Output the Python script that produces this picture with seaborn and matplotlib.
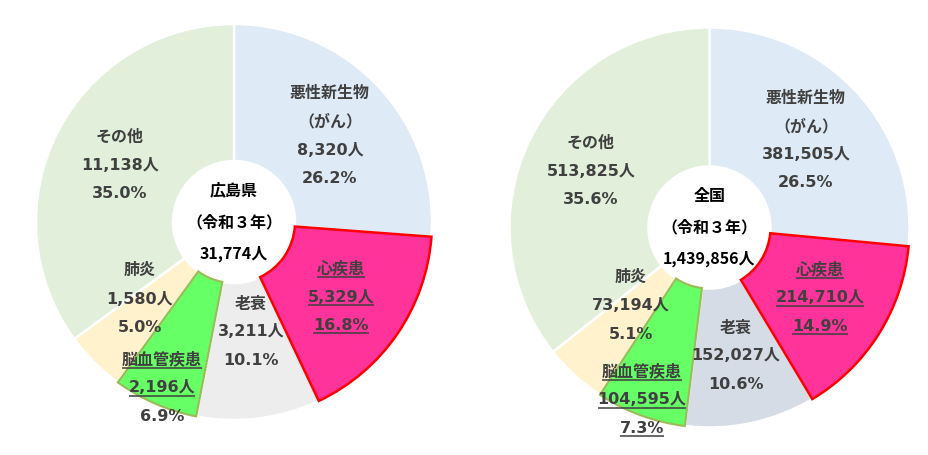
import matplotlib
matplotlib.use("Agg")
import matplotlib.pyplot as plt
import seaborn as sns
import numpy as np

sns.set_theme(style="white")
plt.rcParams['font.family'] = ['DejaVu Sans', 'Noto Sans CJK JP']

# ---------------- data ----------------
categories = ["悪性新生物", "心疾患", "老衰", "脳血管疾患", "肺炎", "その他"]
name_lines = [["悪性新生物", "（がん）"], ["心疾患"], ["老衰"], ["脳血管疾患"], ["肺炎"], ["その他"]]

hiroshima_counts = [8320, 5329, 3211, 2196, 1580, 11138]
hiroshima_pct = ["26.2%", "16.8%", "10.1%", "6.9%", "5.0%", "35.0%"]
hiroshima_title = ["広島県", "（令和３年）", "31,774人"]

japan_counts = [381505, 214710, 152027, 104595, 73194, 513825]
japan_pct = ["26.5%", "14.9%", "10.6%", "7.3%", "5.1%", "35.6%"]
japan_title = ["全国", "（令和３年）", "1,439,856人"]

# ---------------- style / layout ----------------
W, H = 929, 455
DPI = 100
TXT = "#404040"

colors_left = ["#DEEAF6", "#FF3399", "#EDEDED", "#66FF66", "#FFF2CC", "#E2EFDA"]
colors_right = ["#DEEAF6", "#FF3399", "#D6DCE5", "#66FF66", "#FFF2CC", "#E2EFDA"]

charts = [
    dict(counts=hiroshima_counts, pct=hiroshima_pct, title=hiroshima_title,
         colors=colors_left, center=(234, 222), r=198,
         offsets=[(96, -86), (107, 75), (17, 110), (-72, 166), (-94, 77), (-114, -57)],
         underline={1: [0, 1, 2], 3: [0, 1]}),
    dict(counts=japan_counts, pct=japan_pct, title=japan_title,
         colors=colors_right, center=(709.5, 227.5), r=200,
         offsets=[(96.5, -87), (110.5, 70.5), (26.5, 128.5), (-67.5, 172.5), (-78.5, 78.5), (-118.5, -56.5)],
         underline={1: [0, 1, 2], 3: [0, 1, 2]}),
]
HOLE_R = 61
LINE_H = 28.3
FS = 11.5

fig = plt.figure(figsize=(W / DPI, H / DPI), dpi=DPI)
ax = fig.add_axes([0, 0, 1, 1])

to_underline = []

for ch in charts:
    cx, cy_pix = ch["center"]
    cy = H - cy_pix
    wedges, _ = ax.pie(ch["counts"], colors=ch["colors"], startangle=90, counterclock=False,
                       center=(cx, cy), radius=ch["r"],
                       wedgeprops=dict(width=ch["r"] - HOLE_R, edgecolor="white", linewidth=1.8))
    # highlighted slices
    wedges[1].set_edgecolor("#FF0000")
    wedges[1].set_linewidth(1.8)
    wedges[1].set_zorder(5)
    wedges[3].set_edgecolor("#9BBB59")
    wedges[3].set_linewidth(1.5)
    wedges[3].set_zorder(5)

    # center labels
    for i, t in enumerate(ch["title"]):
        ax.text(cx, cy - (i - 1) * 31.5, t, ha="center", va="center",
                fontsize=FS, fontweight="bold", color="black", zorder=10,
                family=["Noto Sans CJK JP", "DejaVu Sans"])

    # slice labels
    for k in range(len(categories)):
        lines = name_lines[k] + [f"{ch['counts'][k]:,}人", ch["pct"][k]]
        dx, dy = ch["offsets"][k]
        n = len(lines)
        for i, ln in enumerate(lines):
            ypix = cy_pix + dy + (i - (n - 1) / 2) * LINE_H
            t = ax.text(cx + dx, H - ypix, ln, ha="center", va="center",
                        fontsize=FS, fontweight="bold", color=TXT, zorder=10)
            if k in ch["underline"] and i in ch["underline"][k]:
                to_underline.append(t)

ax.set_xlim(0, W)
ax.set_ylim(0, H)
ax.set_aspect("auto")
ax.axis("off")

fig.canvas.draw()
renderer = fig.canvas.get_renderer()
inv = ax.transData.inverted()
for t in to_underline:
    bb = t.get_window_extent(renderer)
    (x0, y0), (x1, y1) = inv.transform([(bb.x0, bb.y0), (bb.x1, bb.y1)])
    yc = (y0 + y1) / 2
    ax.plot([x0, x1], [yc - 8, yc - 8], color=TXT, lw=1.1, zorder=11, solid_capstyle="butt")

fig.savefig("out.png", dpi=DPI)
